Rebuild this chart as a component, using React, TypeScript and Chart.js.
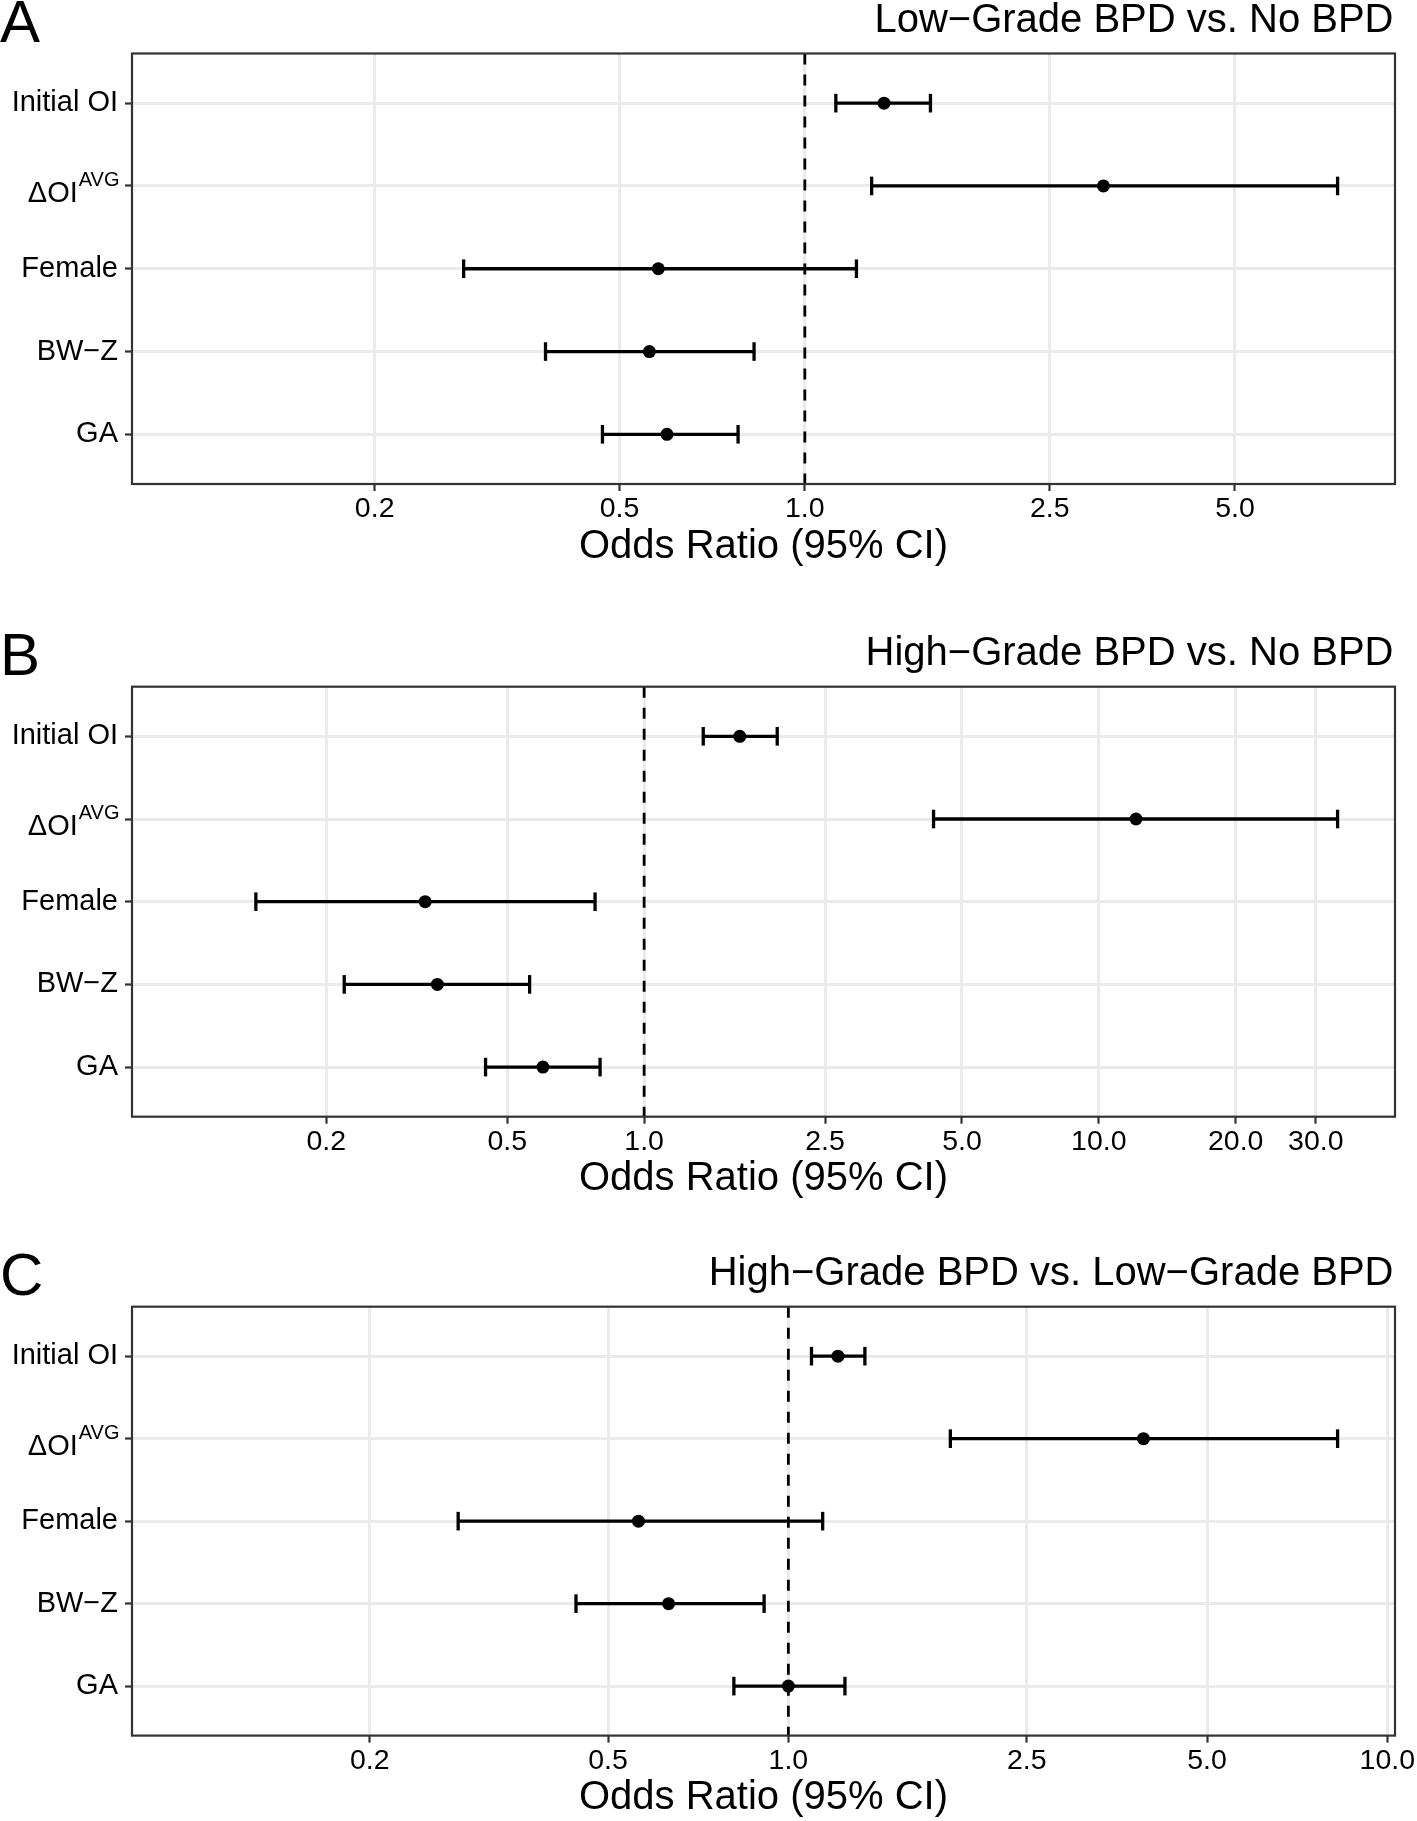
import React, { useEffect, useRef } from "react";
import { Chart, registerables } from "chart.js";

Chart.register(...registerables);

const FONT = '"Liberation Sans", Arial, Helvetica, sans-serif';

// ---- data ----
const rowLabels = ["Initial OI", "ΔOI", "Female", "BW−Z", "GA"];
const rowSuperscripts = ["", "AVG", "", "", ""];

const panelLetters = ["A", "B", "C"];
const panelTitles = [
  "Low−Grade BPD vs. No BPD",
  "High−Grade BPD vs. No BPD",
  "High−Grade BPD vs. Low−Grade BPD",
];
const xAxisTitle = "Odds Ratio (95% CI)";
const referenceOR = 1;
const axisLowerLimit = 0.1;

// Panel A: Low-Grade vs No BPD
const oddsA = [1.345, 3.056, 0.578, 0.559, 0.597];
const lowerA = [1.123, 1.284, 0.279, 0.379, 0.469];
const upperA = [1.6, 7.34, 1.213, 0.827, 0.779];
const ticksA = [0.2, 0.5, 1, 2.5, 5];

// Panel B: High-Grade vs No BPD
const oddsB = [1.623, 12.07, 0.33, 0.351, 0.599];
const lowerB = [1.349, 4.33, 0.14, 0.219, 0.448];
const upperB = [1.962, 33.5, 0.78, 0.56, 0.8];
const ticksB = [0.2, 0.5, 1, 2.5, 5, 10, 20, 30];

// Panel C: High-Grade vs Low-Grade
const oddsC = [1.21, 3.916, 0.562, 0.631, 1.0];
const lowerC = [1.093, 1.864, 0.281, 0.442, 0.811];
const upperC = [1.342, 8.26, 1.141, 0.911, 1.243];
const ticksC = [0.2, 0.5, 1, 2.5, 5, 10];

// ---- layout (pixels) ----
const PAGE_W = 1417;
const PAGE_H = 1821;
const panelLayouts = [
  { top: 0, height: 600, areaTop: 53.5, areaBottom: 484 },
  { top: 600, height: 620, areaTop: 86.7, areaBottom: 516.7 },
  { top: 1220, height: 601, areaTop: 86.7, areaBottom: 515.6 },
];
const AREA_LEFT = 132;
const AREA_RIGHT_PAD = 22;
const Y_LABEL_SIZE = 29;

const panelTextPlugin = {
  id: "panelText",
  afterDraw(chart: any, _args: any, opts: any) {
    const { ctx, chartArea, scales } = chart;
    ctx.save();
    // panel border
    ctx.strokeStyle = "#333333";
    ctx.lineWidth = 2.2;
    ctx.strokeRect(
      chartArea.left,
      chartArea.top,
      chartArea.right - chartArea.left,
      chartArea.bottom - chartArea.top
    );
    ctx.fillStyle = "#000000";
    ctx.textBaseline = "alphabetic";
    // panel letter
    ctx.textAlign = "left";
    ctx.font = `60px ${FONT}`;
    ctx.fillText(opts.letter, 0, chartArea.top - 11.3);
    // title
    ctx.textAlign = "right";
    ctx.font = `40px ${FONT}`;
    ctx.fillText(opts.title, chartArea.right - 1.5, chartArea.top - 22);
    // labels with superscripts
    const yScale = scales.y;
    rowSuperscripts.forEach((sup, i) => {
      if (!sup) return;
      const yy = yScale.getPixelForValue(i + 1);
      const right = chartArea.left - 12.5;
      ctx.textAlign = "right";
      ctx.font = `20px ${FONT}`;
      ctx.fillText(sup, right, yy);
      const w = ctx.measureText(sup).width;
      ctx.font = `${Y_LABEL_SIZE}px ${FONT}`;
      ctx.fillText(rowLabels[i], right - w - 1, yy + 16);
    });
    ctx.restore();
  },
};

function expandLog(lo: number, hi: number, frac: number) {
  const a = Math.log10(lo);
  const b = Math.log10(hi);
  const d = (b - a) * frac;
  return [Math.pow(10, a - d), Math.pow(10, b + d)];
}

type PanelProps = {
  index: number;
  odds: number[];
  lower: number[];
  upper: number[];
  ticks: number[];
};

function Panel({ index, odds, lower, upper, ticks }: PanelProps) {
  const ref = useRef<HTMLCanvasElement | null>(null);
  const lay = panelLayouts[index];

  useEffect(() => {
    if (!ref.current) return;
    const [xmin, xmax] = expandLog(axisLowerLimit, Math.max(...upper), 0.05);
    const axisH = lay.height - lay.areaBottom;
    const titlePadBottom = axisH - 82.5;

    const errorSets = odds.map((_, i) => ({
      type: "scatter" as const,
      data: [
        { x: lower[i], y: i + 1 },
        { x: upper[i], y: i + 1 },
      ],
      showLine: true,
      borderColor: "#000000",
      borderWidth: 3.3,
      pointStyle: "line" as const,
      rotation: 90,
      pointRadius: 9.3,
      pointBorderWidth: 3.3,
      pointBorderColor: "#000000",
      pointBackgroundColor: "#000000",
      order: 2,
      clip: false as const,
    }));

    const refSet = {
      type: "scatter" as const,
      data: [
        { x: referenceOR, y: 0.4 },
        { x: referenceOR, y: 5.6 },
      ],
      showLine: true,
      borderColor: "#000000",
      borderWidth: 2.8,
      borderDash: [11, 10],
      pointRadius: 0,
      order: 3,
    };

    const pointSet = {
      type: "scatter" as const,
      data: odds.map((v, i) => ({ x: v, y: i + 1 })),
      pointStyle: "circle" as const,
      pointRadius: 6.5,
      pointBackgroundColor: "#000000",
      pointBorderWidth: 0,
      order: 1,
    };

    const gridCfg = {
      color: "#EBEBEB",
      lineWidth: 3,
      drawTicks: true,
      tickLength: 7,
      tickColor: "#333333",
      tickWidth: 2.2,
    };

    const chart = new Chart(ref.current, {
      type: "scatter",
      data: { datasets: [refSet, ...errorSets, pointSet] as any },
      options: {
        responsive: false,
        animation: false,
        events: [],
        layout: { padding: { top: lay.areaTop, right: AREA_RIGHT_PAD, left: 0, bottom: 0 } },
        plugins: {
          legend: { display: false },
          tooltip: { enabled: false },
          title: { display: false },
          panelText: { letter: panelLetters[index], title: panelTitles[index] },
        } as any,
        scales: {
          x: {
            type: "logarithmic",
            min: xmin,
            max: xmax,
            afterBuildTicks: (s: any) => {
              s.ticks = ticks.map((v) => ({ value: v }));
            },
            afterFit: (s: any) => {
              s.height = axisH;
            },
            grid: gridCfg,
            border: { display: false },
            ticks: {
              callback: (v: any) => Number(v).toFixed(1),
              font: { size: 28.5, family: FONT },
              color: "#000000",
              padding: 1,
              maxRotation: 0,
              autoSkip: false,
            },
            title: {
              display: true,
              text: xAxisTitle,
              font: { size: 40, family: FONT, lineHeight: 1.0 },
              color: "#000000",
              padding: { top: 0, bottom: titlePadBottom },
            },
          },
          y: {
            type: "linear",
            min: 0.4,
            max: 5.6,
            reverse: true,
            afterBuildTicks: (s: any) => {
              s.ticks = rowLabels.map((_, i) => ({ value: i + 1 }));
            },
            afterFit: (s: any) => {
              s.width = AREA_LEFT;
            },
            grid: gridCfg,
            border: { display: false },
            ticks: {
              callback: (v: any) => {
                const i = Math.round(Number(v)) - 1;
                if (rowSuperscripts[i]) return "";
                return rowLabels[i] ?? "";
              },
              font: { size: Y_LABEL_SIZE, family: FONT },
              color: "#000000",
              padding: 7,
              autoSkip: false,
            },
          },
        },
      } as any,
      plugins: [panelTextPlugin],
    });
    return () => chart.destroy();
  }, []);

  return (
    <canvas
      ref={ref}
      width={PAGE_W}
      height={lay.height}
      style={{ position: "absolute", left: 0, top: lay.top, width: PAGE_W, height: lay.height }}
    />
  );
}

export default function App() {
  return (
    <div
      style={{
        position: "absolute",
        left: 0,
        top: 0,
        width: PAGE_W,
        height: PAGE_H,
        background: "#ffffff",
        overflow: "hidden",
      }}
    >
      <Panel index={0} odds={oddsA} lower={lowerA} upper={upperA} ticks={ticksA} />
      <Panel index={1} odds={oddsB} lower={lowerB} upper={upperB} ticks={ticksB} />
      <Panel index={2} odds={oddsC} lower={lowerC} upper={upperC} ticks={ticksC} />
    </div>
  );
}
